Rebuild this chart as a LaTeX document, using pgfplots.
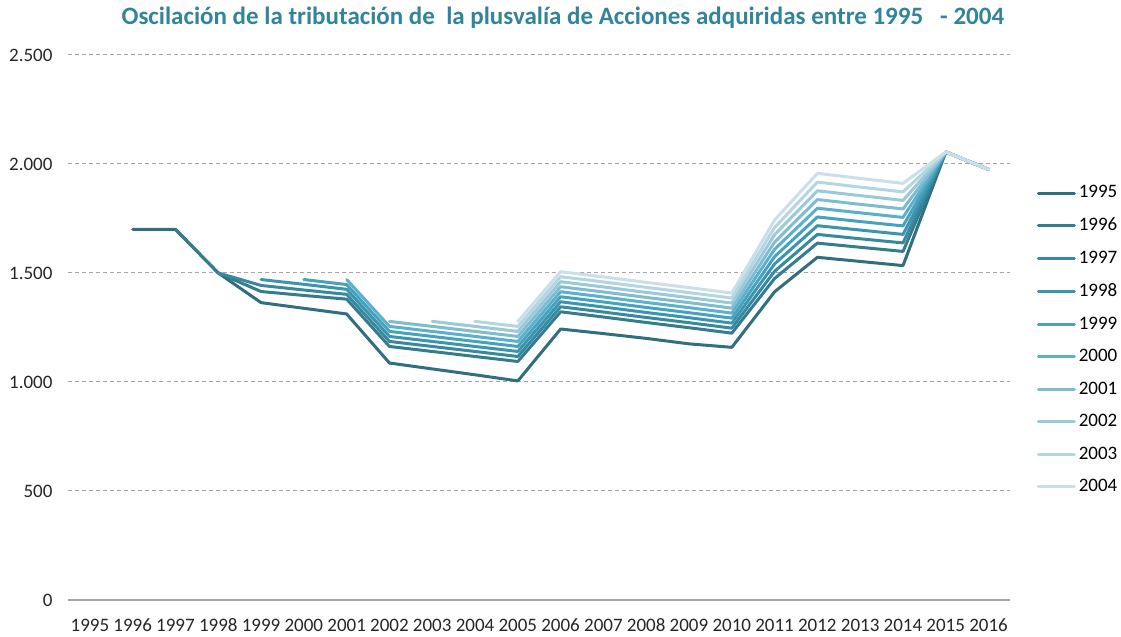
\documentclass[border=0pt]{standalone}
\usepackage{pgfplots}
\pgfplotsset{compat=1.18}
\usepackage{fontspec}
\setmainfont{Carlito}

\definecolor{titleteal}{HTML}{31849B}
\definecolor{cA}{HTML}{2F6F7F}
\definecolor{cB}{HTML}{347C8E}
\definecolor{cC}{HTML}{3889A0}
\definecolor{cD}{HTML}{3C95AF}
\definecolor{cE}{HTML}{47A2BD}
\definecolor{cF}{HTML}{5BB0CB}
\definecolor{cG}{HTML}{80BCD0}
\definecolor{cH}{HTML}{9AC9DA}
\definecolor{cI}{HTML}{B3D6E2}
\definecolor{cJ}{HTML}{CADFE8}
\definecolor{gridgray}{HTML}{A6A6A6}

\begin{document}
\begin{tikzpicture}
\useasboundingbox (-34.25pt,-18.5pt) rectangle (526.25pt,300pt);
\begin{axis}[
    scale only axis,
    width=470.75pt, height=272.5pt,
    xmin=1994.5, xmax=2016.5,
    ymin=0, ymax=2500,
    xtick={1995,...,2016},
    xticklabels={1995,1996,1997,1998,1999,2000,2001,2002,2003,2004,2005,2006,2007,2008,2009,2010,2011,2012,2013,2014,2015,2016},
    ytick={0,500,1000,1500,2000,2500},
    /pgf/number format/.cd, 1000 sep={.}, assume math mode=true,
    /pgfplots/.cd,
    axis y line*=left, axis x line*=bottom,
    y axis line style={draw=none},
    x axis line style={draw=gridgray, line width=0.6pt},
    major tick length=0pt,
    ymajorgrids,
    grid style={gridgray, dash pattern=on 2pt off 1.5pt, line width=0.5pt},
    tick label style={font=\fontsize{9.5}{11}\selectfont, black!85},
    yticklabel style={xshift=-4.5pt},
    xticklabel style={yshift=-5pt, text height=7pt, text depth=0pt},
    title={\textbf{Oscilación de la tributación de\ \ la plusvalía de Acciones adquiridas entre 1995\ \ \ - 2004}},
    title style={at={(axis description cs:0.525,1)}, anchor=base, yshift=9pt, font=\fontsize{12.5}{14}\selectfont, text=titleteal},
    legend style={at={(axis description cs:1.028,0.477)}, anchor=west, draw=none, fill=none,
        font=\fontsize{9.5}{11}\selectfont, row sep=5.6pt, inner sep=0pt, nodes={inner sep=1.5pt}},
    legend cell align=left,
    legend image code/.code={\draw[#1] (0pt,0pt) -- (18pt,0pt);},
    every axis plot/.append style={line width=1.5pt, line join=round, line cap=round},
]
\addplot[cA] coordinates {(1996,1700) (1997,1700) (1998,1500) (1999,1364) (2000,1338) (2001,1312) (2002,1087) (2003,1060) (2004,1033) (2005,1005) (2006,1243) (2007,1222) (2008,1200) (2009,1175) (2010,1159) (2011,1414) (2012,1572) (2013,1553) (2014,1534) (2015,2055) (2016,1975)};
\addlegendentry{1995}
\addplot[cB] coordinates {(1997,1700) (1998,1500) (1999,1415) (2000,1397) (2001,1380) (2002,1163) (2003,1140) (2004,1117) (2005,1094) (2006,1322) (2007,1298) (2008,1273) (2009,1249) (2010,1224) (2011,1475) (2012,1637) (2013,1618) (2014,1599) (2015,2055) (2016,1975)};
\addlegendentry{1996}
\addplot[cC] coordinates {(1998,1500) (1999,1443) (2000,1422) (2001,1402) (2002,1186) (2003,1163) (2004,1140) (2005,1117) (2006,1345) (2007,1321) (2008,1296) (2009,1272) (2010,1247) (2011,1508) (2012,1677) (2013,1657) (2014,1638) (2015,2055) (2016,1975)};
\addlegendentry{1997}
\addplot[cD] coordinates {(1999,1470) (2000,1448) (2001,1425) (2002,1209) (2003,1186) (2004,1163) (2005,1140) (2006,1368) (2007,1344) (2008,1319) (2009,1295) (2010,1270) (2011,1542) (2012,1717) (2013,1697) (2014,1677) (2015,2055) (2016,1975)};
\addlegendentry{1998}
\addplot[cE] coordinates {(2000,1470) (2001,1447) (2002,1232) (2003,1209) (2004,1186) (2005,1163) (2006,1391) (2007,1367) (2008,1342) (2009,1318) (2010,1293) (2011,1575) (2012,1757) (2013,1736) (2014,1716) (2015,2055) (2016,1975)};
\addlegendentry{1999}
\addplot[cF] coordinates {(2001,1470) (2002,1255) (2003,1232) (2004,1209) (2005,1186) (2006,1414) (2007,1390) (2008,1365) (2009,1341) (2010,1316) (2011,1609) (2012,1797) (2013,1776) (2014,1755) (2015,2055) (2016,1975)};
\addlegendentry{2000}
\addplot[cG] coordinates {(2002,1278) (2003,1255) (2004,1232) (2005,1209) (2006,1437) (2007,1413) (2008,1388) (2009,1364) (2010,1339) (2011,1642) (2012,1837) (2013,1815) (2014,1794) (2015,2055) (2016,1975)};
\addlegendentry{2001}
\addplot[cH] coordinates {(2003,1278) (2004,1255) (2005,1232) (2006,1460) (2007,1436) (2008,1411) (2009,1387) (2010,1362) (2011,1676) (2012,1877) (2013,1855) (2014,1833) (2015,2055) (2016,1975)};
\addlegendentry{2002}
\addplot[cI] coordinates {(2004,1278) (2005,1255) (2006,1483) (2007,1459) (2008,1434) (2009,1410) (2010,1385) (2011,1709) (2012,1917) (2013,1894) (2014,1872) (2015,2055) (2016,1975)};
\addlegendentry{2003}
\addplot[cJ] coordinates {(2005,1278) (2006,1506) (2007,1482) (2008,1457) (2009,1433) (2010,1408) (2011,1743) (2012,1957) (2013,1934) (2014,1911) (2015,2055) (2016,1975)};
\addlegendentry{2004}
\end{axis}
\end{tikzpicture}
\end{document}
